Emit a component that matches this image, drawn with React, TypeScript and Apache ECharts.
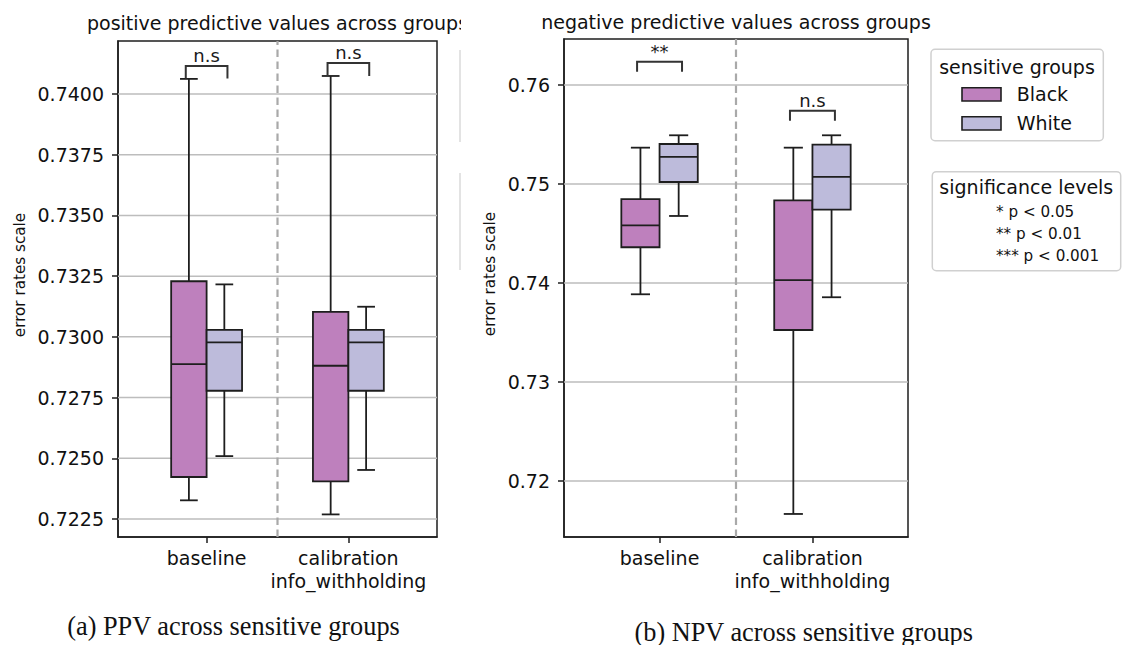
import React, { useEffect, useRef } from 'react';
import * as echarts from 'echarts';

// ---- data -------------------------------------------------------------
const categories = ['baseline', 'calibration\ninfo_withholding'];
const groups = ['Black', 'White'];
const groupColors = ['#be80bd', '#bdbbdb'];

// five-number summaries per category: [lower whisker, Q1, median, Q3, upper whisker]
const ppvBlack = [
  [0.72327, 0.72423, 0.72888, 0.73229, 0.74062],
  [0.72269, 0.72405, 0.72881, 0.73103, 0.74074],
];
const ppvWhite = [
  [0.72509, 0.72778, 0.72977, 0.73029, 0.73216],
  [0.72452, 0.72778, 0.72977, 0.73029, 0.73124],
];
const npvBlack = [
  [0.73886, 0.74361, 0.74583, 0.74848, 0.75367],
  [0.71667, 0.73525, 0.7403, 0.74835, 0.75367],
];
const npvWhite = [
  [0.74677, 0.7502, 0.75273, 0.75404, 0.75492],
  [0.73856, 0.74741, 0.75071, 0.75397, 0.75492],
];

const ppvTicks = [0.7225, 0.725, 0.7275, 0.73, 0.7325, 0.735, 0.7375, 0.74];
const npvTicks = [0.72, 0.73, 0.74, 0.75, 0.76];
const ppvRange = [0.72176, 0.74218];
const npvRange = [0.714343, 0.764646];

// significance annotations per category, bracket heights as [top, leg end]
const ppvSignif = ['n.s', 'n.s'];
const npvSignif = ['**', 'n.s'];
const ppvBrackets = [
  [0.741153, 0.740638],
  [0.741276, 0.740741],
];
const npvBrackets = [
  [0.76235, 0.76134],
  [0.7574, 0.75639],
];

const significanceLevels = ['* p < 0.05', '** p < 0.01', '*** p < 0.001'];

// ---- layout / style ---------------------------------------------------
const FONT = 'DejaVu Sans';
const SERIF = 'Liberation Serif';
const EDGE = '#1e1e1e';
const X_MIN = -0.625;
const X_MAX = 1.625;
const BOX_WIDTH = 0.25;
const HUE_OFFSET = 0.125;
const BRACKET_HALF = 0.147;

type Panel = {
  title: string;
  caption: string;
  black: number[][];
  white: number[][];
  ticks: number[];
  range: number[];
  signif: string[];
  brackets: number[][];
  decimals: number;
  grid: { left: number; top: number; width: number; height: number };
  titlePos: [number, number];
  ylabelPos: [number, number];
  captionPos: [number, number];
};

const panels: Panel[] = [
  {
    title: 'positive predictive values across groups',
    caption: '(a) PPV across sensitive groups',
    black: ppvBlack,
    white: ppvWhite,
    ticks: ppvTicks,
    range: ppvRange,
    signif: ppvSignif,
    brackets: ppvBrackets,
    decimals: 4,
    grid: { left: 118, top: 41, width: 319, height: 496 },
    titlePos: [277.5, 23.4],
    ylabelPos: [20, 275],
    captionPos: [233.5, 626],
  },
  {
    title: 'negative predictive values across groups',
    caption: '(b) NPV across sensitive groups',
    black: npvBlack,
    white: npvWhite,
    ticks: npvTicks,
    range: npvRange,
    signif: npvSignif,
    brackets: npvBrackets,
    decimals: 2,
    grid: { left: 564, top: 39, width: 344, height: 498 },
    titlePos: [736, 21.7],
    ylabelPos: [490, 274],
    captionPos: [803.7, 632],
  },
];

const seg = (x1: number, y1: number, x2: number, y2: number, stroke: string, lineWidth: number, lineDash?: number[]) => ({
  type: 'line',
  shape: { x1, y1, x2, y2 },
  style: { stroke, lineWidth, lineDash },
});

const boxRenderer = (color: string) => (_params: any, api: any) => {
  const x = api.value(0);
  const lo = api.coord([x, api.value(1)]);
  const q1 = api.coord([x, api.value(2)]);
  const md = api.coord([x, api.value(3)]);
  const q3 = api.coord([x, api.value(4)]);
  const hi = api.coord([x, api.value(5)]);
  const w = api.size([BOX_WIDTH, 0])[0];
  const cx = lo[0];
  const cap = w / 4;
  return {
    type: 'group',
    children: [
      seg(cx, hi[1], cx, q3[1], EDGE, 1.8),
      seg(cx, q1[1], cx, lo[1], EDGE, 1.8),
      seg(cx - cap, hi[1], cx + cap, hi[1], EDGE, 1.8),
      seg(cx - cap, lo[1], cx + cap, lo[1], EDGE, 1.8),
      {
        type: 'rect',
        shape: { x: cx - w / 2, y: q3[1], width: w, height: q1[1] - q3[1] },
        style: { fill: color, stroke: EDGE, lineWidth: 1.8 },
      },
      seg(cx - w / 2, md[1], cx + w / 2, md[1], EDGE, 1.8),
    ],
  };
};

function buildPanel(p: Panel, gi: number) {
  const xAxis = {
    type: 'value',
    gridIndex: gi,
    min: X_MIN,
    max: X_MAX,
    splitLine: { show: false },
    axisLine: { show: true, onZero: false, lineStyle: { color: EDGE, width: 1.5 } },
    axisTick: { show: true, customValues: [0, 1], length: 6, lineStyle: { color: EDGE, width: 1.5 } },
    axisLabel: {
      customValues: [0, 1],
      formatter: (v: number) => categories[Math.round(v)],
      fontFamily: FONT,
      fontSize: 19,
      color: '#111',
      lineHeight: 23.5,
      margin: 9,
    },
  };
  const yAxis = {
    type: 'value',
    gridIndex: gi,
    min: p.range[0],
    max: p.range[1],
    splitLine: { show: false },
    axisLine: { show: true, onZero: false, lineStyle: { color: EDGE, width: 1.5 } },
    axisTick: { show: true, customValues: p.ticks, length: 6, lineStyle: { color: EDGE, width: 1.5 } },
    axisLabel: {
      customValues: p.ticks,
      formatter: (v: number) => v.toFixed(p.decimals),
      fontFamily: FONT,
      fontSize: 19,
      color: '#111',
      margin: 14,
    },
  };

  const series: any[] = [
    {
      type: 'custom',
      xAxisIndex: gi,
      yAxisIndex: gi,
      z: 1,
      silent: true,
      data: p.ticks.map((v) => [0, v]),
      encode: { x: 0, y: 1 },
      renderItem: (_params: any, api: any) => {
        const a = api.coord([X_MIN, api.value(1)]);
        const b = api.coord([X_MAX, api.value(1)]);
        return seg(a[0], a[1], b[0], b[1], '#bdbdbd', 1.5);
      },
    },
    {
      type: 'custom',
      xAxisIndex: gi,
      yAxisIndex: gi,
      z: 2,
      silent: true,
      data: [[0.5, p.range[0], p.range[1]]],
      encode: { x: 0, y: [1, 2] },
      renderItem: (_params: any, api: any) => {
        const a = api.coord([api.value(0), api.value(1)]);
        const b = api.coord([api.value(0), api.value(2)]);
        return seg(a[0], a[1], b[0], b[1], '#a9a9a9', 2.2, [7.5, 4.5]);
      },
    },
  ];

  [p.black, p.white].forEach((stats, g) => {
    series.push({
      type: 'custom',
      name: groups[g],
      xAxisIndex: gi,
      yAxisIndex: gi,
      z: 3,
      data: stats.map((s, i) => [i + (g === 0 ? -HUE_OFFSET : HUE_OFFSET), ...s]),
      encode: { x: 0, y: [1, 2, 3, 4, 5] },
      renderItem: boxRenderer(groupColors[g]),
    });
  });

  series.push({
    type: 'custom',
    xAxisIndex: gi,
    yAxisIndex: gi,
    z: 4,
    silent: true,
    data: p.brackets.map((b, i) => [i, b[0], b[1]]),
    encode: { x: 0, y: [1, 2] },
    renderItem: (params: any, api: any) => {
      const i = api.value(0);
      const top = api.coord([i, api.value(1)]);
      const leg = api.coord([i, api.value(2)]);
      const half = api.size([BRACKET_HALF, 0])[0];
      const l = top[0] - half;
      const r = top[0] + half;
      return {
        type: 'group',
        children: [
          {
            type: 'polyline',
            shape: { points: [[l, leg[1]], [l, top[1]], [r, top[1]], [r, leg[1]]] },
            style: { stroke: '#333', lineWidth: 2, fill: 'none' },
          },
          {
            type: 'text',
            x: top[0],
            y: top[1] - 10.6,
            style: {
              text: p.signif[params.dataIndex],
              fill: '#1a1a1a',
              font: `18px "${FONT}"`,
              align: 'center',
              verticalAlign: 'middle',
              textAlign: 'center',
              textVerticalAlign: 'middle',
            },
          },
        ],
      };
    },
  });

  const graphics: any[] = [
    {
      type: 'text',
      x: p.titlePos[0],
      y: p.titlePos[1],
      z: 10,
      style: {
        text: p.title,
        fill: '#111',
        font: `19px "${FONT}"`,
        align: 'center',
        verticalAlign: 'middle',
        textAlign: 'center',
        textVerticalAlign: 'middle',
      },
    },
    {
      type: 'text',
      x: p.ylabelPos[0],
      y: p.ylabelPos[1],
      rotation: Math.PI / 2,
      z: 10,
      style: {
        text: 'error rates scale',
        fill: '#111',
        font: `15.2px "${FONT}"`,
        align: 'center',
        verticalAlign: 'middle',
        textAlign: 'center',
        textVerticalAlign: 'middle',
      },
    },
    {
      type: 'text',
      x: p.captionPos[0],
      y: p.captionPos[1],
      z: 10,
      style: {
        text: p.caption,
        fill: '#111',
        font: `26.3px "${SERIF}"`,
        align: 'center',
        verticalAlign: 'middle',
        textAlign: 'center',
        textVerticalAlign: 'middle',
      },
    },
  ];

  return { xAxis, yAxis, series, graphics };
}

function legendGraphics() {
  const txt = (text: string, x: number, y: number, size: number, align: string) => ({
    type: 'text',
    x,
    y,
    z: 12,
    style: {
      text,
      fill: '#111',
      font: `${size}px "${FONT}"`,
      align,
      verticalAlign: 'middle',
      textAlign: align,
      textVerticalAlign: 'middle',
    },
  });
  const frame = (x: number, y: number, w: number, h: number) => ({
    type: 'rect',
    z: 11,
    shape: { x, y, width: w, height: h, r: 4 },
    style: { fill: '#fff', stroke: '#d0d0d0', lineWidth: 1.5 },
  });
  const out: any[] = [
    frame(931, 49.3, 172.3, 91.4),
    txt('sensitive groups', 1017, 66.7, 19, 'center'),
    frame(932.3, 171.7, 188.4, 99),
    txt('significance levels', 1026.3, 186.7, 19, 'center'),
  ];
  groups.forEach((g, i) => {
    const cy = 94.3 + i * 29;
    out.push({
      type: 'rect',
      z: 12,
      shape: { x: 962, y: cy - 6.6, width: 39, height: 13.3 },
      style: { fill: groupColors[i], stroke: EDGE, lineWidth: 1.6 },
    });
    out.push(txt(g, 1016.7, cy, 19, 'left'));
  });
  significanceLevels.forEach((s, i) => {
    out.push(txt(s, 996, 211.7 + i * 22, 15.2, 'left'));
  });
  // neighbouring legend frames cut off at the edge of the left figure
  out.push(seg(460, 50, 460, 142, '#dadada', 1.5));
  out.push(seg(460, 173, 460, 270, '#dadada', 1.5));
  return out;
}

export default function App() {
  const ref = useRef<HTMLDivElement>(null);

  useEffect(() => {
    if (!ref.current) return;
    const chart = echarts.init(ref.current, undefined, { renderer: 'svg' });
    const built = panels.map((p, i) => buildPanel(p, i));
    const graphics: any[] = [];
    built.forEach((b) => graphics.push(...b.graphics));
    // the left figure is cropped just past its title
    graphics.push({
      type: 'rect',
      z: 20,
      shape: { x: 461, y: 0, width: 70, height: 38 },
      style: { fill: '#fff' },
    });
    graphics.push(...legendGraphics());

    chart.setOption({
      animation: false,
      backgroundColor: '#fff',
      textStyle: { fontFamily: FONT },
      grid: panels.map((p) => ({
        ...p.grid,
        show: true,
        borderColor: EDGE,
        borderWidth: 1.5,
        backgroundColor: 'transparent',
      })),
      xAxis: built.map((b) => b.xAxis),
      yAxis: built.map((b) => b.yAxis),
      series: built.flatMap((b) => b.series),
      graphic: graphics,
    });
    return () => chart.dispose();
  }, []);

  return (
    <div
      ref={ref}
      style={{ position: 'absolute', left: 0, top: 0, width: 1126, height: 645, background: '#fff' }}
    />
  );
}
